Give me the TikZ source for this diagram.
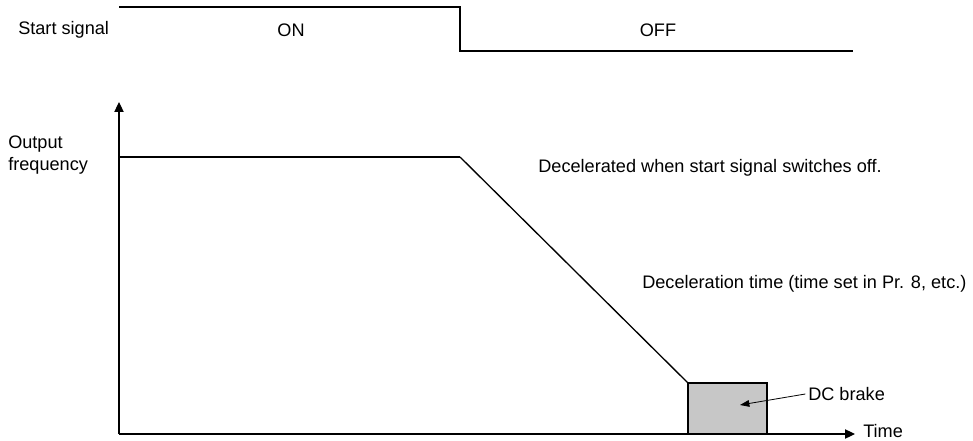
\documentclass[tikz,border=0pt]{standalone}
\usepackage{fontspec}
\setmainfont{Liberation Sans}
\usetikzlibrary{positioning,calc,arrows.meta}

\begin{document}
\begin{tikzpicture}[x=0.75pt, y=-0.75pt,
  lbl/.style={font=\fontsize{13.6}{17}\selectfont, inner sep=0pt},
  sig/.style={line width=1.5pt},
  axis/.style={line width=0.8pt, -{Triangle[length=7.5pt, width=7pt]}}]
  \useasboundingbox (0,0) rectangle (973,441);

  % Start signal
  \coordinate (s0) at (119, 7);
  \coordinate (s1) at (460, 7);
  \coordinate (s2) at (460, 51);
  \coordinate (s3) at (853, 51);
  \draw[sig] (s0) -- (s1) -- (s2) -- (s3);
  \node[lbl, anchor=west] (startlbl) at (18, 30) {Start signal};
  \node[lbl] (onlbl) at (291, 30) {ON};
  \node[lbl] (offlbl) at (658, 30) {OFF};

  % Axes
  \coordinate (orig) at (119, 434);
  \coordinate (ytip) at (119, 102);
  \coordinate (xtip) at (855, 434);
  \draw[axis] (orig) -- (ytip);
  \draw[axis] (orig) -- (xtip);
  \node[lbl, align=left, anchor=west] (ylbl) at (8, 155) {Output\\frequency};
  \node[lbl, anchor=west] (xlbl) at (863, 431) {Time};

  % Output frequency
  \coordinate (f0) at (119, 157);
  \coordinate (f1) at (460, 157);
  \coordinate (f2) at (688, 383);
  \draw[line width=1.5pt] (f0) -- (f1);
  \draw[line width=1pt] (f1) -- (f2);

  % DC brake
  \draw[line width=1pt, fill=black!22] (688, 383) rectangle (767, 434);
  \node[lbl, anchor=west] (dclbl) at (808, 394) {DC brake};
  \coordinate (dcpt) at (740, 405);
  \draw[line width=0.6pt, -{Triangle[length=7pt, width=5pt]}] ([xshift=-2pt]dclbl.west) -- (dcpt);

  % Notes
  \node[lbl, anchor=east] (declbl) at (882, 168) {Decelerated when start signal switches off.};
  \node[lbl, anchor=west] (dectime) at (642, 284) {Deceleration time (time set in Pr. 8, etc.)};
\end{tikzpicture}
\end{document}
